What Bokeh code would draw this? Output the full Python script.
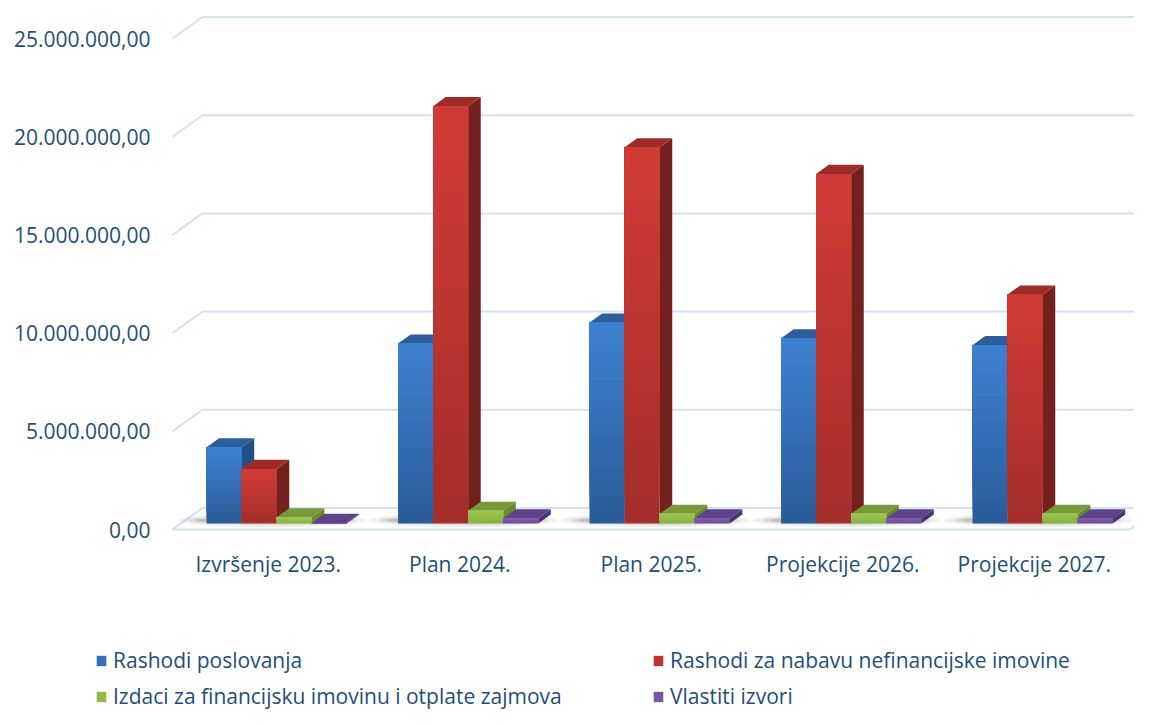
from bokeh.plotting import figure
from bokeh.models import Range1d, Legend, LegendItem, ColumnDataSource
from bokeh.core.properties import value
from bokeh.embed import file_html
from bokeh.resources import INLINE

# ---------------- data ----------------
categories = ["Izvršenje 2023.", "Plan 2024.", "Plan 2025.", "Projekcije 2026.", "Projekcije 2027."]
series_names = ["Rashodi poslovanja", "Rashodi za nabavu nefinancijske imovine",
                "Izdaci za financijsku imovinu i otplate zajmova", "Vlastiti izvori"]
rashodi_poslovanja = [3880000, 9160000, 10230000, 9430000, 9080000]
rashodi_nefin = [2780000, 21250000, 19160000, 17800000, 11660000]
izdaci_fin = [320000, 650000, 490000, 490000, 490000]
vlastiti_izvori = [30000, 260000, 270000, 270000, 270000]
y_ticks = [0, 5000000, 10000000, 15000000, 20000000, 25000000]

series_values = [rashodi_poslovanja, rashodi_nefin, izdaci_fin, vlastiti_izvori]

# ---------------- styles ----------------
# (front top, front bottom, side, top)
styles = [
    ("#3e81d2", "#2b5b98", "#244f86", "#2d5e9c"),
    ("#d33c37", "#a42d2a", "#74201e", "#9e2b28"),
    ("#9dc653", "#86b13e", "#6a8a30", "#77993a"),
    ("#8562b2", "#6c4a97", "#4e3475", "#5f4289"),
]
TEXT = "#1F4E79"
GRID = "#d6e0f0"
FONT = "Open Sans"
FS = "21px"

# ---------------- geometry (pixel layout -> data units) ----------------
FIG_W, FIG_H = 1134, 709
X0_PX = 172.0          # x of the front-left floor corner
CAT_PX = 191.5         # width of one category on the front plane
BASE_PX = 529.0        # y of value 0 on the front plane
K = 491.0 / 25000000   # px per value unit
DX = 30.0 / CAT_PX     # full depth offset, x (category units)
DY = 21.5 / K          # full depth offset, y (value units)
D_FRONT, D_BACK = 0.28, 0.70
BW = 0.183             # one bar width (category units)

def px_x(px):
    return (px - X0_PX) / CAT_PX

def px_y(py):
    return (BASE_PX - py) / K

p = figure(width=FIG_W, height=FIG_H, output_backend="svg", toolbar_location=None,
           x_range=Range1d(px_x(0), px_x(FIG_W)),
           y_range=Range1d(px_y(FIG_H), px_y(0)),
           min_border=0, min_border_left=0, min_border_right=0,
           min_border_top=0, min_border_bottom=0)
p.axis.visible = False
p.xgrid.visible = False
p.ygrid.visible = False
p.outline_line_color = None
p.background_fill_color = "white"

n_cat = len(categories)

# ---------------- walls / gridlines ----------------
gx, gy = [], []
for t in y_ticks:
    gx.append([0, DX, n_cat + DX])
    gy.append([t, t + DY, t + DY])
p.multi_line(gx, gy, line_color=GRID, line_width=2)
# floor front and side edges
p.multi_line([[0, n_cat], [n_cat, n_cat + DX]], [[0, 0], [0, DY]], line_color=GRID, line_width=2)

# ---------------- shadows ----------------
for i in range(n_cat):
    cx = i + 0.5 + D_FRONT * DX
    for w, h, a in [(0.98, 14, 0.06), (0.88, 10, 0.09), (0.80, 6, 0.12)]:
        p.ellipse(x=cx - 0.025, y=(D_FRONT + 0.15) * DY, width=w, height=h / K,
                  fill_color="black", fill_alpha=a, line_color=None)

# ---------------- 3D bars ----------------
def lerp_color(c1, c2, t):
    a = [int(c1[j:j + 2], 16) for j in (1, 3, 5)]
    b = [int(c2[j:j + 2], 16) for j in (1, 3, 5)]
    return "#%02x%02x%02x" % tuple(round(a[m] + (b[m] - a[m]) * t) for m in range(3))

NSTRIP = 14
ddx = (D_BACK - D_FRONT) * DX
ddy = (D_BACK - D_FRONT) * DY
legend_items = []

for i in range(n_cat):
    for s, vals in enumerate(series_values):
        v = vals[i]
        ftop, fbot, cside, ctop = styles[s]
        x0 = i + 0.5 - 2 * BW + s * BW + D_FRONT * DX
        x1 = x0 + BW
        yb = D_FRONT * DY
        yt = yb + v
        # side face
        p.patch([x1, x1 + ddx, x1 + ddx, x1], [yb, yb + ddy, yt + ddy, yt],
                fill_color=cside, line_color=None)
        # top face
        p.patch([x0, x1, x1 + ddx, x0 + ddx], [yt, yt, yt + ddy, yt + ddy],
                fill_color=ctop, line_color=None)

# front faces drawn per series with vertical gradient (nested strips, no seams)
for s, vals in enumerate(series_values):
    ftop, fbot, cside, ctop = styles[s]
    L, R, B, T, C = [], [], [], [], []
    for i in range(n_cat):
        v = vals[i]
        x0 = i + 0.5 - 2 * BW + s * BW + D_FRONT * DX
        yb = D_FRONT * DY
        for k in range(NSTRIP):
            L.append(x0)
            R.append(x0 + BW)
            B.append(yb + v * k / NSTRIP)
            T.append(yb + v)
            C.append(lerp_color(fbot, ftop, (k + 0.5) / NSTRIP))
    src = ColumnDataSource(dict(left=L, right=R, bottom=B, top=T, color=C))
    r = p.quad(left="left", right="right", bottom="bottom", top="top", source=src,
               fill_color="color", line_color=None)
    legend_items.append(LegendItem(label=series_names[s], renderers=[r], index=NSTRIP // 2))

# ---------------- axis labels (text) ----------------
def fmt(v):
    s = "{:,.2f}".format(v)
    return s.replace(",", "X").replace(".", ",").replace("X", ".")

p.text(x=[px_x(150)] * len(y_ticks), y=y_ticks, text=[fmt(t) for t in y_ticks],
       text_align="right", text_baseline="middle", text_color=TEXT,
       text_font=value(FONT), text_font_size=FS)
p.text(x=[i + 0.5 for i in range(n_cat)], y=[px_y(563)] * n_cat, text=categories,
       text_align="center", text_baseline="middle", text_color=TEXT,
       text_font=value(FONT), text_font_size=FS)

# ---------------- legend ----------------
legend = Legend(items=legend_items, location=(95, -1), orientation="horizontal", ncols=2,
                glyph_width=12, glyph_height=13, label_standoff=6, label_width=531,
                spacing=8, padding=0, margin=0, border_line_color=None,
                background_fill_alpha=0, label_text_color=TEXT,
                label_text_font=FONT, label_text_font_size=FS, label_height=20)
p.add_layout(legend, "center")

open("out.html", "w").write(file_html(p, INLINE))
